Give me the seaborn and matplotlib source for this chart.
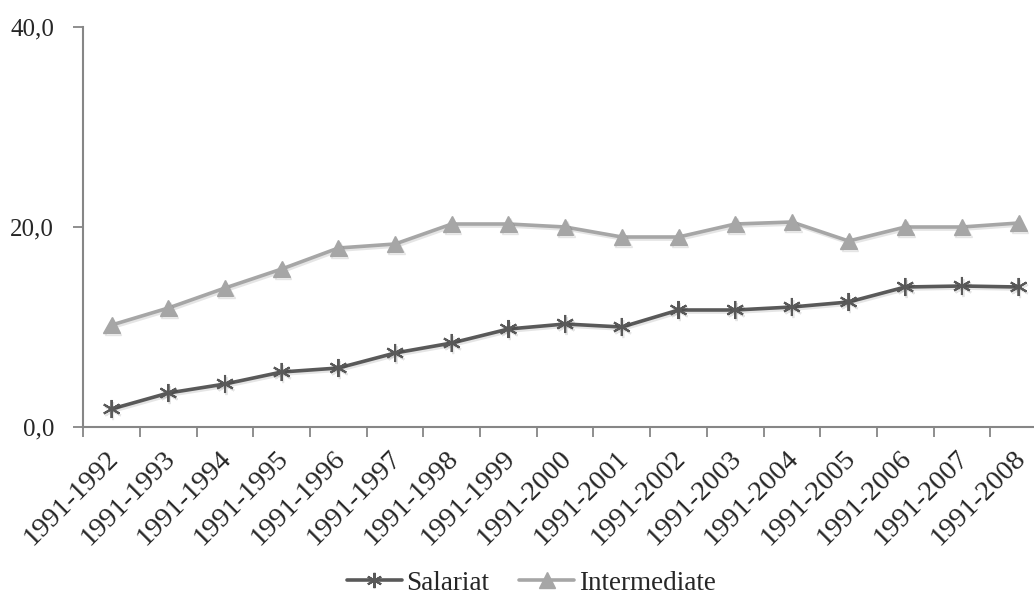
import matplotlib
matplotlib.use("Agg")
import matplotlib.pyplot as plt
import matplotlib.patheffects as pe
import matplotlib.transforms as mtransforms
import numpy as np
import pandas as pd
import seaborn as sns

# Periods on the x axis
periods = [f"1991-{y}" for y in range(1992, 2009)]

# Series values (%)
salariat = [1.8, 3.4, 4.3, 5.5, 5.9, 7.4, 8.4, 9.8, 10.3, 10.0,
            11.7, 11.7, 12.0, 12.5, 14.0, 14.1, 14.0]
intermediate = [10.2, 11.9, 13.9, 15.8, 17.9, 18.3, 20.3, 20.3, 20.0, 19.0,
                19.0, 20.3, 20.5, 18.6, 20.0, 20.0, 20.4]

yticks = [0, 20, 40]
ytick_labels = ["0,0", "20,0", "40,0"]

series = {"Salariat": salariat, "Intermediate": intermediate}
colors = {"Salariat": "#595959", "Intermediate": "#A6A6A6"}
markers = {"Salariat": (6, 2, 0), "Intermediate": "^"}
msizes = {"Salariat": 13, "Intermediate": 12}
medges = {"Salariat": 1.5, "Intermediate": 1.0}

sns.set_theme(style="white")
plt.rcParams["font.family"] = ["Liberation Serif"]
FS = 18

fig = plt.figure(figsize=(10.34, 6.07), dpi=100)
ax = fig.add_axes([83.3 / 1034, 1 - 427 / 607, (1047 - 83.3) / 1034, 400 / 607])

shadow = [pe.SimpleLineShadow(offset=(1.0, -1.5), shadow_color="#000000", alpha=0.10), pe.Normal()]
x = np.arange(len(periods))
for name, vals in series.items():
    df = pd.DataFrame({"x": x, "value": vals})
    sns.lineplot(data=df, x="x", y="value", color=colors[name],
                 marker=markers[name], markersize=msizes[name],
                 markeredgewidth=medges[name], markeredgecolor=colors[name],
                 markerfacecolor=colors[name], linewidth=2.6, ax=ax)
    ax.get_lines()[-1].set_path_effects(shadow)

ax.set_xlim(-0.5, len(periods) - 0.5)
ax.set_ylim(0, 40)
ax.set_yticks(yticks)
ax.set_yticklabels(ytick_labels, fontsize=FS)
ax.set_xticks(x)
ax.set_xticklabels(periods, rotation=45, ha="right", rotation_mode="anchor", fontsize=20.5)
ax.set_xticks(np.arange(-0.5, len(periods), 1), minor=True)
ax.tick_params(axis="x", which="major", length=0, pad=12)
ax.tick_params(axis="x", which="minor", length=7, width=1.3, color="#868686", direction="out", bottom=True)
ax.tick_params(axis="y", which="major", length=7, width=1.3, color="#868686", direction="out", left=True, pad=14)
ax.set_xlabel("")
ax.set_ylabel("")

# nudge the rotated period labels a little to the left
shift = mtransforms.ScaledTranslation(-6 / 100, -2 / 100, fig.dpi_scale_trans)
for lbl in ax.get_xticklabels():
    lbl.set_transform(lbl.get_transform() + shift)

for side in ["top", "right"]:
    ax.spines[side].set_visible(False)
for side in ["left", "bottom"]:
    ax.spines[side].set_color("#868686")
    ax.spines[side].set_linewidth(1.5)

handles = [
    plt.Line2D([], [], color=colors[n], marker=markers[n], lw=2.6, markersize=11,
               markeredgewidth=medges[n], markeredgecolor=colors[n], markerfacecolor=colors[n])
    for n in series
]
fig.legend(handles, list(series), loc="center", bbox_to_anchor=(531 / 1034, 1 - 583 / 607),
           ncol=2, frameon=False, fontsize=19.5, handlelength=2.05, handletextpad=0.15,
           columnspacing=1.1)

fig.savefig("out.png", dpi=100)
